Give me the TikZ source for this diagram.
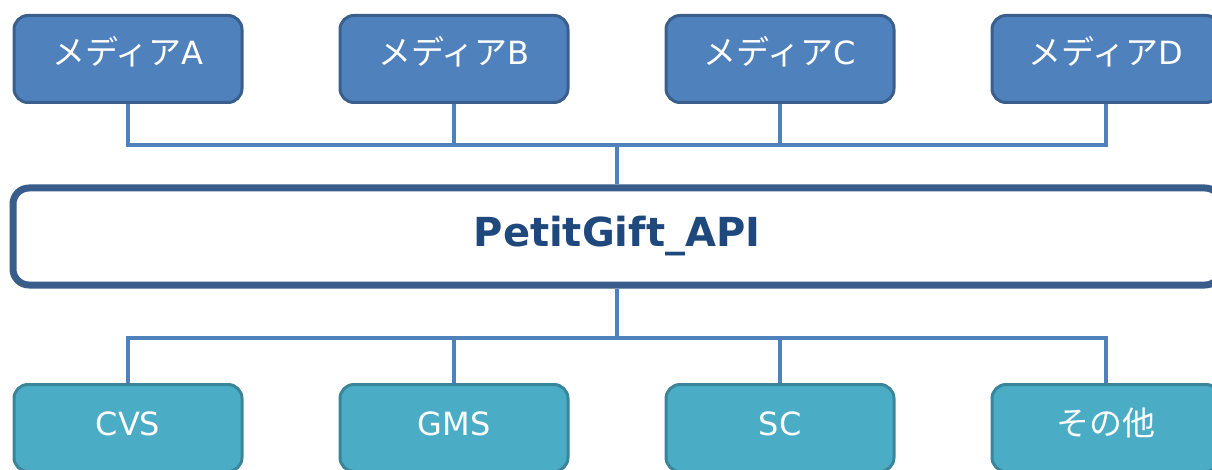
\documentclass[tikz,border=0pt]{standalone}
\usepackage{fontspec}
\setmainfont{DejaVu Sans}
\newfontfamily\jpfont{Noto Sans CJK JP}
\definecolor{topfill}{HTML}{4F81BD}
\definecolor{topborder}{HTML}{3A5F8C}
\definecolor{botfill}{HTML}{4BACC6}
\definecolor{botborder}{HTML}{3A8599}
\definecolor{apiborder}{HTML}{385D8A}
\definecolor{apitext}{HTML}{1F497D}
\definecolor{connc}{HTML}{4F81BD}
\newcommand{\jp}[1]{{\jpfont\fontsize{33}{40}\selectfont #1}}
\begin{document}
\begin{tikzpicture}[x=1pt,y=-1pt,
  boxbase/.style={line width=3pt, rounded corners=14pt, minimum width=228pt, minimum height=87pt, text=white, inner sep=0pt, font=\fontsize{32}{38}\selectfont},
  mediabox/.style={boxbase, draw=topborder, fill=topfill, text height=24pt, text depth=12pt},
  shopbox/.style={boxbase, draw=botborder, fill=botfill, text height=24pt, text depth=10pt},
  apibox/.style={draw=apiborder, line width=7pt, rounded corners=16pt, fill=white, minimum width=1208pt, minimum height=97pt, text=apitext, font=\bfseries\fontsize{40}{48}\selectfont},
  conn/.style={draw=connc, line width=3.5pt}]
\useasboundingbox (0,0) rectangle (1212,470);
\clip (0,0) rectangle (1212,470);
\node[mediabox] (mA) at (128,59) {\jp{メディア}A};
\node[mediabox] (mB) at (454,59) {\jp{メディア}B};
\node[mediabox] (mC) at (780,59) {\jp{メディア}C};
\node[mediabox] (mD) at (1106,59) {\jp{メディア}D};
\node[apibox] (api) at (617,236.5) {PetitGift\_API};
\node[shopbox] (sA) at (128,428) {CVS};
\node[shopbox] (sB) at (454,428) {GMS};
\node[shopbox] (sC) at (780,428) {SC};
\node[shopbox] (sD) at (1106,428) {\jp{その他}};
\coordinate (tb) at (617,145);
\coordinate (bb) at (617,338);
\draw[conn] (mA.south) |- (tb);
\draw[conn] (mD.south) |- (tb);
\draw[conn] (mB.south) -- (mB.south |- tb);
\draw[conn] (mC.south) -- (mC.south |- tb);
\draw[conn] (tb) -- (api.north);
\draw[conn] (sA.north) |- (bb);
\draw[conn] (sD.north) |- (bb);
\draw[conn] (sB.north) -- (sB.north |- bb);
\draw[conn] (sC.north) -- (sC.north |- bb);
\draw[conn] (api.south) -- (bb);
\end{tikzpicture}
\end{document}
